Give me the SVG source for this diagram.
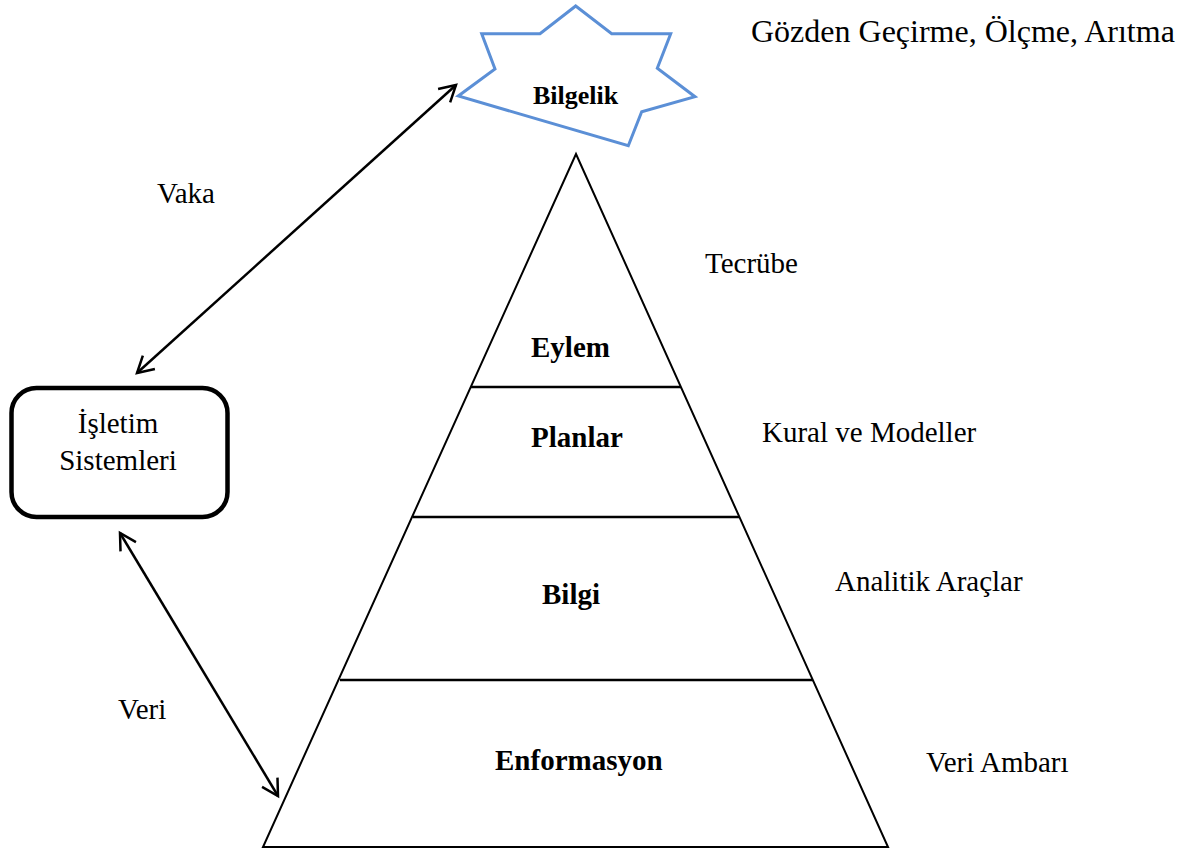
<svg xmlns="http://www.w3.org/2000/svg" width="1198" height="851" viewBox="0 0 1198 851">
  <style>
    text { font-family: "Liberation Serif", "DejaVu Serif", serif; font-size: 29px; fill: #000; }
    .bold { font-weight: bold; }
    .edge { fill: none; stroke: #000; stroke-width: 2.5; }
    .tier { fill: none; stroke: #000; stroke-width: 2.5; }
  </style>
  <defs>
    <marker id="openArrow" markerUnits="userSpaceOnUse" viewBox="-22 -14 26 28" markerWidth="26" markerHeight="28" refX="0" refY="0" orient="auto-start-reverse">
      <path d="M-16,-9 L0,0 L-16,9" fill="none" stroke="#000" stroke-width="2.5" stroke-linejoin="miter"/>
    </marker>
  </defs>

  <rect width="1198" height="851" fill="#fff"/>

  <!-- Pyramid outline and tier dividers -->
  <g id="pyramid">
    <polygon points="576,154 888,847 263,847" fill="none" stroke="#000" stroke-width="2"/>
    <line class="tier" x1="471" y1="387" x2="681" y2="387"/>
    <line class="tier" x1="413" y1="517" x2="739" y2="517"/>
    <line class="tier" x1="340" y1="680" x2="813" y2="680"/>
  </g>

  <g id="eylem"><text class="bold" x="531" y="357" font-family="Liberation Serif, serif">Eylem</text></g>
  <g id="planlar"><text class="bold" x="531" y="447" font-family="Liberation Serif, serif">Planlar</text></g>
  <g id="bilgi"><text class="bold" x="542" y="604" font-family="Liberation Serif, serif">Bilgi</text></g>
  <g id="enformasyon"><text class="bold" x="495" y="770" font-family="Liberation Serif, serif">Enformasyon</text></g>

  <!-- Star at the top -->
  <g id="bilgelik">
    <polygon points="575.7,6 611.7,33.7 670.7,33.7 657.3,68.3 695,96.7 641.7,111.7 628.3,145.7 458.3,96 495,69 481.7,33.7 540,33.7" fill="#fff" stroke="#5B8FD6" stroke-width="3"/>
    <text class="bold" x="533" y="104" font-size="26" style="font-size:26px">Bilgelik</text>
  </g>

  <!-- Operating systems box -->
  <g id="isletim-sistemleri">
    <rect x="11.5" y="388" width="216" height="129" rx="25" ry="25" fill="#fff" stroke="#000" stroke-width="4.5"/>
    <text x="118" y="433" text-anchor="middle">İşletim</text>
    <text x="118" y="470" text-anchor="middle">Sistemleri</text>
  </g>

  <!-- Side annotations -->
  <g id="annotations">
    <text x="751" y="42" style="font-size:32px">Gözden Geçirme, Ölçme, Arıtma</text>
    <text x="705" y="273">Tecrübe</text>
    <text x="762" y="442">Kural ve Modeller</text>
    <text x="835" y="591">Analitik Araçlar</text>
    <text x="926" y="772">Veri Ambarı</text>
  </g>

  <!-- Double-headed connectors -->
  <g id="connectors">
    <line class="edge" x1="137" y1="373" x2="456" y2="85" marker-start="url(#openArrow)" marker-end="url(#openArrow)"/>
    <line class="edge" x1="120" y1="533" x2="278" y2="796" marker-start="url(#openArrow)" marker-end="url(#openArrow)"/>
    <text x="157" y="203">Vaka</text>
    <text x="118" y="719">Veri</text>
  </g>
</svg>
